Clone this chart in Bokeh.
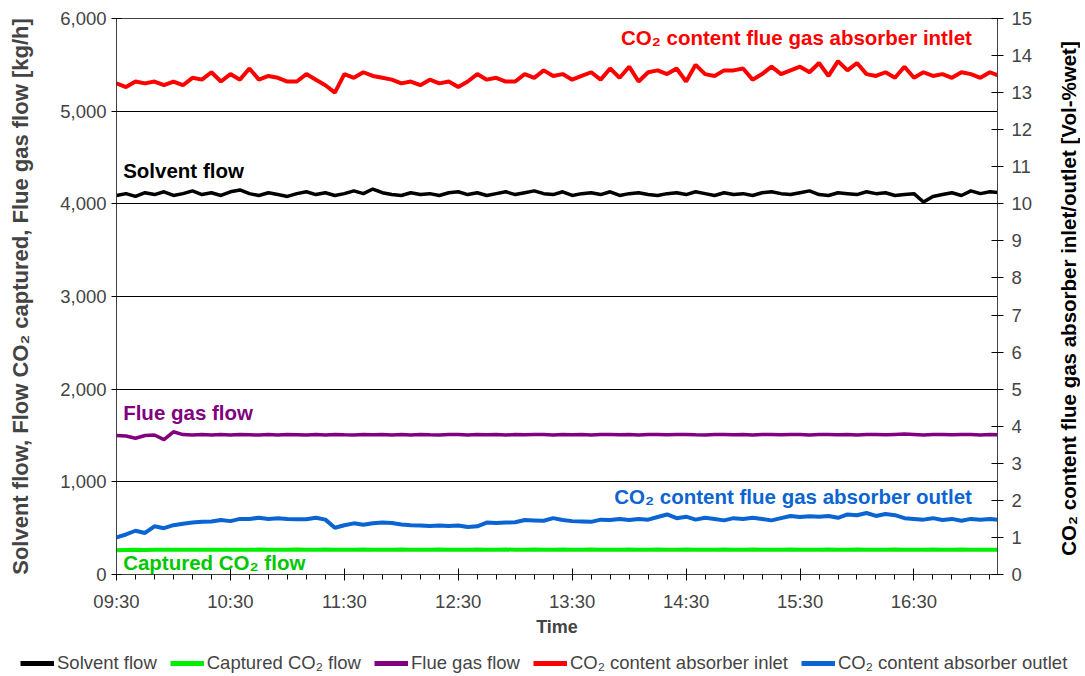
import math
from bokeh.plotting import figure
from bokeh.layouts import column, row
from bokeh.models import (Range1d, LinearAxis, FixedTicker, NumeralTickFormatter,
                          Legend, LegendItem, Label)
from bokeh.embed import file_html
from bokeh.resources import INLINE

# ---------------- data ----------------
start_time = "09:30"
step_min = 5

solvent_flow = [4090, 4110, 4080, 4120, 4100, 4130, 4090, 4110, 4140, 4100,
                4120, 4090, 4130, 4150, 4110, 4090, 4120, 4100, 4080, 4110,
                4130, 4100, 4120, 4090, 4110, 4140, 4110, 4160, 4120, 4100,
                4090, 4120, 4100, 4110, 4090, 4120, 4130, 4100, 4120, 4090,
                4110, 4130, 4100, 4120, 4140, 4110, 4100, 4130, 4090, 4110,
                4120, 4100, 4130, 4090, 4110, 4120, 4100, 4090, 4110, 4120,
                4100, 4130, 4110, 4090, 4120, 4100, 4110, 4090, 4120, 4130,
                4110, 4100, 4120, 4140, 4100, 4090, 4120, 4110, 4100, 4130,
                4110, 4120, 4090, 4100, 4110, 4020, 4080, 4100, 4120, 4090,
                4140, 4110, 4130, 4120]

captured_co2_flow = [262, 264, 266, 265, 267, 266, 268, 267, 266, 268,
                     267, 268, 266, 268, 267, 269, 268, 267, 268, 269,
                     268, 267, 269, 268, 267, 268, 269, 268, 267, 268,
                     269, 268, 267, 268, 269, 268, 268, 267, 269, 268,
                     268, 269, 267, 268, 269, 268, 267, 269, 268, 268,
                     269, 268, 267, 268, 269, 268, 268, 269, 267, 268,
                     269, 268, 268, 267, 269, 268, 268, 269, 268, 267,
                     268, 269, 268, 268, 267, 269, 268, 268, 269, 268,
                     267, 268, 269, 268, 268, 267, 269, 268, 268, 269,
                     268, 267, 268, 268]

flue_gas_flow = [1500, 1495, 1470, 1500, 1505, 1455, 1540, 1510, 1505, 1510,
                 1505, 1510, 1505, 1510, 1508, 1505, 1510, 1505, 1510, 1508,
                 1505, 1510, 1505, 1512, 1508, 1505, 1510, 1508, 1512, 1505,
                 1510, 1505, 1512, 1508, 1505, 1510, 1512, 1505, 1510, 1508,
                 1512, 1505, 1510, 1508, 1512, 1510, 1505, 1512, 1508, 1510,
                 1505, 1512, 1510, 1508, 1512, 1505, 1510, 1512, 1508, 1510,
                 1512, 1508, 1505, 1512, 1510, 1508, 1512, 1505, 1510, 1512,
                 1508, 1510, 1512, 1505, 1510, 1512, 1508, 1510, 1505, 1512,
                 1510, 1508, 1512, 1515, 1510, 1505, 1512, 1510, 1508, 1512,
                 1510, 1505, 1510, 1508]

co2_inlet = [13.25, 13.15, 13.30, 13.25, 13.30, 13.20, 13.30, 13.20, 13.40, 13.35,
             13.55, 13.30, 13.50, 13.35, 13.65, 13.35, 13.45, 13.40, 13.30, 13.30,
             13.50, 13.35, 13.20, 13.00, 13.50, 13.40, 13.55, 13.45, 13.40, 13.35,
             13.25, 13.30, 13.20, 13.35, 13.25, 13.30, 13.15, 13.30, 13.50, 13.35,
             13.40, 13.30, 13.30, 13.50, 13.40, 13.60, 13.45, 13.50, 13.35, 13.45,
             13.55, 13.35, 13.65, 13.40, 13.70, 13.30, 13.55, 13.60, 13.50, 13.65,
             13.30, 13.75, 13.50, 13.45, 13.60, 13.60, 13.65, 13.35, 13.50, 13.70,
             13.50, 13.60, 13.70, 13.55, 13.80, 13.45, 13.85, 13.60, 13.80, 13.50,
             13.45, 13.55, 13.40, 13.70, 13.40, 13.55, 13.45, 13.50, 13.40, 13.55,
             13.50, 13.40, 13.55, 13.45]

co2_outlet = [1.00, 1.08, 1.18, 1.12, 1.30, 1.25, 1.33, 1.37, 1.40, 1.42,
              1.43, 1.47, 1.44, 1.50, 1.50, 1.53, 1.50, 1.52, 1.50, 1.49,
              1.49, 1.53, 1.48, 1.26, 1.33, 1.38, 1.34, 1.38, 1.40, 1.39,
              1.35, 1.33, 1.32, 1.31, 1.32, 1.31, 1.32, 1.28, 1.30, 1.40,
              1.39, 1.40, 1.41, 1.47, 1.46, 1.45, 1.52, 1.47, 1.44, 1.43,
              1.42, 1.48, 1.47, 1.50, 1.47, 1.50, 1.48, 1.55, 1.62, 1.52,
              1.56, 1.48, 1.53, 1.50, 1.46, 1.52, 1.50, 1.53, 1.50, 1.46,
              1.52, 1.58, 1.55, 1.57, 1.56, 1.58, 1.53, 1.62, 1.60, 1.66,
              1.58, 1.63, 1.60, 1.52, 1.50, 1.48, 1.52, 1.47, 1.50, 1.45,
              1.50, 1.48, 1.50, 1.47]

x_tick_labels = ["09:30", "10:30", "11:30", "12:30", "13:30", "14:30", "15:30", "16:30"]
end_time = "17:14"

series_names = ["Solvent flow", "Captured CO\u2082 flow", "Flue gas flow",
                "CO\u2082 content absorber inlet", "CO\u2082 content absorber outlet"]

# ---------------- derived ----------------
def to_min(s):
    h, m = s.split(":")
    return int(h) * 60 + int(m)

t0 = to_min(start_time)
times = [t0 + i * step_min for i in range(len(solvent_flow))]
t_end = to_min(end_time)
major_ticks = [to_min(s) for s in x_tick_labels]
minor_ticks = list(range(t0, t_end + 1, 10))

FONT = "Liberation Sans"
RED = "#FF0000"
BLACK = "#000000"
PURPLE = "#800080"
GREEN_LINE = "#00EE00"
GREEN_TEXT = "#00C800"
BLUE = "#0A64D2"
COLORS = [BLACK, GREEN_LINE, PURPLE, RED, BLUE]
ALL_SERIES = [solvent_flow, captured_co2_flow, flue_gas_flow, co2_inlet, co2_outlet]

MAIN_W, MAIN_H = 1056, 652
SIDE_W = 24
LEG_W, LEG_H = 1084, 22

p = figure(width=MAIN_W, height=MAIN_H, output_backend="svg", toolbar_location=None,
           x_range=Range1d(t0, t_end), y_range=Range1d(0, 6000),
           min_border_left=116, min_border_right=MAIN_W - 997, min_border_top=18,
           min_border_bottom=MAIN_H - 574)
p.extra_y_ranges = {"right": Range1d(0, 15)}
p.outline_line_color = "#404040"
p.outline_line_width = 1
p.background_fill_color = "white"
p.border_fill_color = "white"

# lines
r_solv = p.line(times, solvent_flow, line_color=BLACK, line_width=3.5)
r_capt = p.line(times, captured_co2_flow, line_color=GREEN_LINE, line_width=4)
r_flue = p.line(times, flue_gas_flow, line_color=PURPLE, line_width=3.5)
r_in = p.line(times, co2_inlet, line_color=RED, line_width=4, y_range_name="right")
r_out = p.line(times, co2_outlet, line_color=BLUE, line_width=4, y_range_name="right")

# grid
p.xgrid.visible = False
p.ygrid.ticker = FixedTicker(ticks=[1000, 2000, 3000, 4000, 5000, 6000])
p.ygrid.grid_line_color = "black"
p.ygrid.grid_line_width = 1

# x axis
xa = p.xaxis[0]
xa.ticker = FixedTicker(ticks=major_ticks, minor_ticks=minor_ticks)
xa.major_label_overrides = {t: s for t, s in zip(major_ticks, x_tick_labels)}
xa.axis_label = "Time"
xa.axis_label_text_font = FONT
xa.axis_label_text_font_style = "bold"
xa.axis_label_text_font_size = "18px"
xa.axis_label_standoff = 2
xa.major_label_text_font = FONT
xa.major_label_text_font_size = "18.5px"
xa.major_label_standoff = 10
xa.major_tick_in = 6
xa.major_tick_out = 6
xa.minor_tick_in = 0
xa.minor_tick_out = 5
xa.axis_line_color = "#404040"

# left axis
ya = p.yaxis[0]
ya.ticker = FixedTicker(ticks=[0, 1000, 2000, 3000, 4000, 5000, 6000], minor_ticks=[])
ya.formatter = NumeralTickFormatter(format="0,0")
ya.axis_label = "Solvent flow, Flow CO\u2082 captured, Flue gas flow [kg/h]"
ya.axis_label_text_font = FONT
ya.axis_label_text_font_style = "bold"
ya.axis_label_text_font_size = "22px"
ya.axis_label_standoff = 24
ya.major_label_text_font = FONT
ya.major_label_text_font_size = "18.5px"
ya.major_label_standoff = 5
ya.major_tick_in = 5
ya.major_tick_out = 5
ya.axis_line_color = "#404040"

# right axis
ra = LinearAxis(y_range_name="right",
                ticker=FixedTicker(ticks=list(range(0, 16)), minor_ticks=[]))
ra.major_label_text_font = FONT
ra.major_label_text_font_size = "18.5px"
ra.major_label_standoff = 8
ra.major_tick_in = 6
ra.major_tick_out = 6
ra.axis_line_color = "#404040"
p.add_layout(ra, "right")

# in-plot annotations
def add_label(x, y, text, color, align, rng="default"):
    lab = Label(x=x, y=y, text=text, text_color=color, text_align=align,
                text_baseline="middle", text_font=FONT, text_font_style="bold",
                text_font_size="20.5px", y_range_name=rng)
    p.add_layout(lab)

add_label(1020.5, 14.5, "CO\u2082 content flue gas absorber intlet", RED, "right", "right")
add_label(573.5, 4360, "Solvent flow", BLACK, "left")
add_label(573.5, 1750, "Flue gas flow", PURPLE, "left")
add_label(1020.5, 2.1, "CO\u2082 content flue gas absorber outlet", BLUE, "right", "right")
add_label(573.5, 130, "Captured CO\u2082 flow", GREEN_TEXT, "left")

# ---------- right-hand strip: title of the right axis (reads bottom-to-top) ----------
# (its frame is aligned with the main frame by the row layout: 556 px tall)
side = figure(width=SIDE_W, height=MAIN_H, output_backend="svg", toolbar_location=None,
              x_axis_location=None, y_axis_location=None,
              x_range=Range1d(0, 1), y_range=Range1d(0, 1),
              min_border=0, outline_line_color=None)
side.xgrid.visible = False
side.ygrid.visible = False
side.add_layout(Label(x=SIDE_W / 2, y=276, x_units="screen", y_units="screen",
                      angle=math.pi / 2,
                      text="CO\u2082 content flue gas absorber inlet/outlet [Vol-%wet]",
                      text_align="center", text_baseline="middle", text_font=FONT,
                      text_font_style="bold", text_font_size="20.5px", text_color="black"))

# ---------- bottom strip: legend ----------
leg = figure(width=LEG_W, height=LEG_H, output_backend="svg",
             toolbar_location=None, x_axis_location=None, y_axis_location=None,
             x_range=Range1d(0, 1), y_range=Range1d(0, 1),
             min_border=0, outline_line_color=None)
leg.xgrid.visible = False
leg.ygrid.visible = False
# same series (they fall outside this strip's ranges, only their legend glyphs show)
leg_renderers = [leg.line(times, s, line_color=c, line_width=5)
                 for s, c in zip(ALL_SERIES, COLORS)]
legend = Legend(items=[LegendItem(label=n, renderers=[r])
                       for n, r in zip(series_names, leg_renderers)],
                orientation="horizontal", location=(20, 0))
legend.label_text_font = FONT
legend.label_text_font_size = "18.5px"
legend.glyph_width = 34
legend.glyph_height = 18
legend.label_height = 18
legend.label_standoff = 3
legend.spacing = 13
legend.padding = 0
legend.margin = 0
legend.border_line_alpha = 0
legend.background_fill_alpha = 0
leg.add_layout(legend, "center")

layout = column(row(p, side, spacing=0), leg, spacing=0)
open("out.html", "w").write(file_html(layout, INLINE))
